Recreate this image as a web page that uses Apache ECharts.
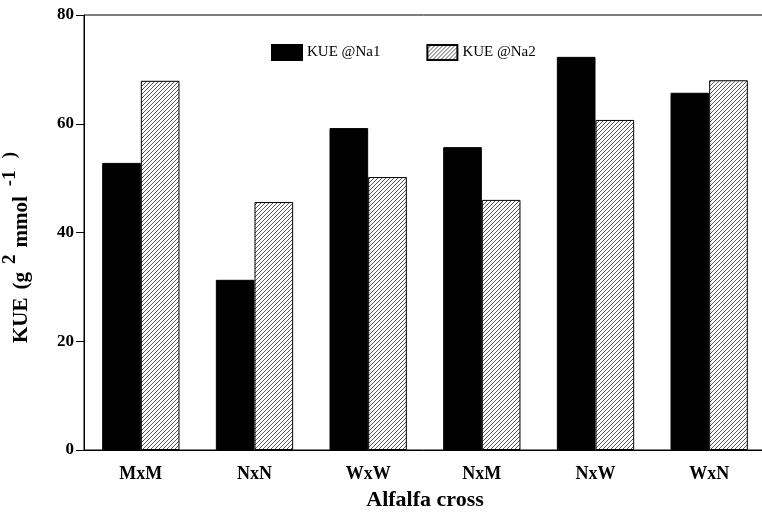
<!DOCTYPE html>
<html><head><meta charset="utf-8">
<script src="https://cdn.jsdelivr.net/npm/echarts@6/dist/echarts.min.js"></script>
<style>html,body{margin:0;padding:0;background:#fff}#c{width:762px;height:516px}</style>
</head><body><div id="c"></div>
<script>
const categories = ['MxM','NxN','WxW','NxM','NxW','WxN'];
const na1 = [52.8, 31.3, 59.2, 55.7, 72.3, 65.7];
const na2 = [67.9, 45.6, 50.2, 46.0, 60.7, 68.0];
const yTicks = [0, 20, 40, 60, 80];

function hatch(){
  const s = 4;
  const cv = document.createElement('canvas');
  cv.width = s; cv.height = s;
  const g = cv.getContext('2d');
  g.fillStyle = '#fff'; g.fillRect(0,0,s,s);
  g.strokeStyle = '#555'; g.lineWidth = 1;
  g.beginPath();
  g.moveTo(0,s); g.lineTo(s,0);
  g.moveTo(-1,1); g.lineTo(1,-1);
  g.moveTo(s-1,s+1); g.lineTo(s+1,s-1);
  g.stroke();
  return cv;
}
const pat = {image: hatch(), repeat: 'repeat'};
const font = 'Liberation Serif';
const chart = echarts.init(document.getElementById('c'));
chart.setOption({
  backgroundColor: '#fff',
  animation: false,
  grid: {left: 84, top: 15, width: 682, height: 435, show: true, borderColor: '#000', borderWidth: 1,
         backgroundColor: 'transparent', outerBoundsMode: 'none', containLabel: false},
  legend: {
    left: 266, top: 39, itemWidth: 30, itemHeight: 15, itemGap: 46, icon: 'rect',
    textStyle: {fontFamily: font, fontSize: 15, color: '#000'},
    data: ['KUE @Na1', 'KUE @Na2']
  },
  xAxis: {
    type: 'category', data: categories,
    name: 'Alfalfa cross', nameLocation: 'middle', nameGap: 39,
    nameTextStyle: {fontFamily: font, fontSize: 22, fontWeight: 'bold', color: '#000'},
    axisLine: {lineStyle: {color: '#000', width: 1}},
    axisTick: {alignWithLabel: true, length: 7, lineStyle: {color: '#000'}},
    axisLabel: {fontFamily: font, fontSize: 18, fontWeight: 'bold', color: '#000', margin: 15}
  },
  yAxis: {
    type: 'value', min: 0, max: 80, interval: 20,
    name: '{n|KUE}{g8| }{n|(g}{g8| }{s|2}{g7| }{n|mmol}{g10| }{s|-1}{g12| }{s|)}{pad| }',
    nameLocation: 'middle', nameGap: 52, nameRotate: 90,
    nameTextStyle: {
      rich: {
        n: {fontFamily: font, fontSize: 21, fontWeight: 'bold', color: '#000', verticalAlign: 'bottom'},
        s: {fontFamily: font, fontSize: 19, fontWeight: 'bold', color: '#000', verticalAlign: 'top', padding: [0,0,12,0]},
        g7: {width: 7, fontSize: 12},
        g8: {width: 8, fontSize: 12},
        g10: {width: 10, fontSize: 12},
        g12: {width: 12, fontSize: 12},
        pad: {width: 30, fontSize: 12}
      }
    },
    splitLine: {show: false},
    axisLine: {show: true, lineStyle: {color: '#000', width: 1}},
    axisTick: {show: true, length: 8, lineStyle: {color: '#000'}},
    axisLabel: {fontFamily: font, fontSize: 17, fontWeight: 'bold', color: '#000', margin: 10,
      formatter: v => yTicks.includes(v) ? String(v) : ''}
  },
  series: [
    {name: 'KUE @Na1', type: 'bar', data: na1, barGap: '0%', barCategoryGap: '32%',
     itemStyle: {color: '#000', borderColor: '#000', borderWidth: 1}},
    {name: 'KUE @Na2', type: 'bar', data: na2, barGap: '0%', barCategoryGap: '32%',
     itemStyle: {color: pat, borderColor: '#000', borderWidth: 1}}
  ]
});
</script></body></html>
